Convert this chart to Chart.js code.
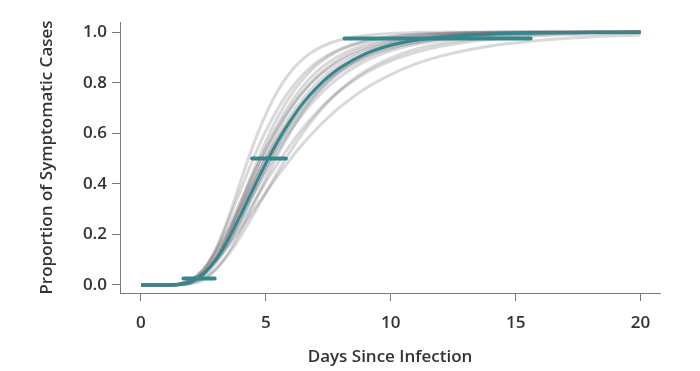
<!DOCTYPE html>
<html>
<head>
<meta charset="utf-8">
<script src="https://cdn.jsdelivr.net/npm/chart.js@4.4.1/dist/chart.umd.min.js"></script>
<style>
  html, body { margin: 0; padding: 0; background: #fff; }
  #wrap { width: 700px; height: 371px; position: relative; }
</style>
</head>
<body>
<div id="wrap"><canvas id="chart"></canvas></div>
<script>
// Days since infection (x positions shared by all curves)
const days = [0, 1, 1.5, 2, 2.5, 3, 3.5, 4, 4.5, 5, 5.5, 6, 6.5, 7, 7.5, 8, 9, 10, 11, 12, 14, 16, 18, 20];

// Fitted curve (teal)
const fitted = [0, 0, 0.002, 0.012, 0.043, 0.100, 0.182, 0.279, 0.382, 0.481, 0.572, 0.652, 0.721, 0.777, 0.824, 0.861, 0.915, 0.948, 0.968, 0.980, 0.993, 0.997, 0.999, 1.0];

// Bootstrap curves (grey)
const boot1 = [0, 0, 0.001, 0.010, 0.050, 0.138, 0.266, 0.413, 0.555, 0.676, 0.772, 0.844, 0.895, 0.930, 0.954, 0.970, 0.987, 0.995, 0.998, 0.999, 1, 1, 1, 1];
const boot2 = [0, 0, 0.002, 0.017, 0.061, 0.143, 0.254, 0.378, 0.500, 0.609, 0.701, 0.775, 0.833, 0.878, 0.910, 0.935, 0.966, 0.982, 0.991, 0.995, 0.999, 1, 1, 1];
const boot3 = [0, 0, 0.001, 0.009, 0.040, 0.106, 0.206, 0.327, 0.452, 0.568, 0.669, 0.751, 0.816, 0.866, 0.903, 0.930, 0.964, 0.982, 0.991, 0.995, 0.999, 1, 1, 1];
const boot4 = [0, 0, 0.003, 0.019, 0.060, 0.132, 0.226, 0.332, 0.439, 0.539, 0.627, 0.702, 0.765, 0.815, 0.856, 0.888, 0.933, 0.960, 0.976, 0.985, 0.995, 0.998, 0.999, 1];
const boot5 = [0, 0, 0.001, 0.011, 0.042, 0.104, 0.194, 0.301, 0.414, 0.521, 0.616, 0.698, 0.766, 0.820, 0.862, 0.896, 0.940, 0.966, 0.981, 0.989, 0.997, 0.999, 1, 1];
const boot6 = [0, 0, 0.004, 0.021, 0.062, 0.128, 0.214, 0.310, 0.407, 0.500, 0.584, 0.657, 0.720, 0.773, 0.816, 0.852, 0.904, 0.938, 0.960, 0.974, 0.989, 0.995, 0.998, 0.999];
const boot7 = [0, 0, 0.001, 0.009, 0.034, 0.085, 0.161, 0.256, 0.359, 0.461, 0.556, 0.640, 0.711, 0.771, 0.820, 0.859, 0.915, 0.949, 0.969, 0.982, 0.993, 0.998, 0.999, 1];
const boot8 = [0, 0, 0.002, 0.013, 0.044, 0.098, 0.173, 0.261, 0.355, 0.447, 0.534, 0.611, 0.679, 0.736, 0.785, 0.825, 0.886, 0.926, 0.952, 0.968, 0.986, 0.994, 0.997, 0.999];
const boot9 = [0, 0, 0, 0.005, 0.021, 0.061, 0.127, 0.215, 0.316, 0.420, 0.519, 0.609, 0.687, 0.753, 0.806, 0.849, 0.910, 0.948, 0.969, 0.982, 0.994, 0.998, 0.999, 1];
const boot10 = [0, 0, 0.003, 0.016, 0.046, 0.097, 0.164, 0.242, 0.324, 0.407, 0.485, 0.557, 0.622, 0.679, 0.729, 0.771, 0.838, 0.886, 0.920, 0.944, 0.972, 0.986, 0.993, 0.996];
const boot11 = [0, 0, 0.001, 0.007, 0.025, 0.063, 0.120, 0.194, 0.278, 0.365, 0.451, 0.531, 0.604, 0.669, 0.725, 0.773, 0.847, 0.897, 0.932, 0.955, 0.980, 0.991, 0.996, 0.998];
const boot12 = [0, 0, 0.005, 0.019, 0.049, 0.095, 0.155, 0.222, 0.294, 0.365, 0.435, 0.500, 0.560, 0.614, 0.663, 0.706, 0.778, 0.832, 0.874, 0.905, 0.945, 0.968, 0.981, 0.989];
const boot13 = [0, 0, 0.002, 0.013, 0.046, 0.106, 0.192, 0.293, 0.399, 0.500, 0.592, 0.672, 0.739, 0.794, 0.839, 0.874, 0.924, 0.955, 0.973, 0.984, 0.994, 0.998, 0.999, 1];
const boot14 = [0, 0, 0.002, 0.013, 0.044, 0.100, 0.179, 0.271, 0.368, 0.464, 0.552, 0.630, 0.698, 0.755, 0.803, 0.842, 0.899, 0.936, 0.959, 0.974, 0.989, 0.996, 0.998, 0.999];
const boot15 = [0, 0, 0.001, 0.011, 0.043, 0.108, 0.203, 0.316, 0.433, 0.543, 0.640, 0.721, 0.788, 0.840, 0.880, 0.910, 0.951, 0.973, 0.985, 0.992, 0.998, 1, 1, 1];
const bootCurves = [boot1, boot2, boot3, boot4, boot5, boot6, boot7, boot8, boot9, boot10, boot11, boot12, boot13, boot14, boot15];

// Confidence intervals at the 2.5th, 50th and 97.5th percentiles
const ciLevels = [0.025, 0.5, 0.975];
const ciLow = [1.7, 4.45, 8.15];
const ciHigh = [2.95, 5.8, 15.6];

// Tick labels
const xTicks = [0, 5, 10, 15, 20];
const yTicks = [0, 0.2, 0.4, 0.6, 0.8, 1.0];

const teal = '#36878b';
const axisGrey = '#7a7a7a';
const textColor = '#333333';

function toPoints(ys) {
    return days.map((d, i) => ({ x: d, y: ys[i] }));
}

const datasets = [];

// CI bars on top
ciLevels.forEach((lvl, i) => {
    datasets.push({
        data: [{ x: ciLow[i], y: lvl }, { x: ciHigh[i], y: lvl }],
        borderColor: teal,
        borderWidth: 4,
        pointRadius: 0,
        borderCapStyle: 'round',
        tension: 0
    });
});

datasets.push({
    data: toPoints(fitted),
    borderColor: teal,
    borderWidth: 3,
    pointRadius: 0,
    cubicInterpolationMode: 'monotone'
});

bootCurves.forEach(c => {
    datasets.push({
        data: toPoints(c),
        borderColor: 'rgba(95, 95, 105, 0.24)',
        borderWidth: 3,
        pointRadius: 0,
        cubicInterpolationMode: 'monotone'
    });
});

const tickFont = { family: 'Open Sans', size: 17, weight: '600' };
const titleFont = { family: 'Open Sans', size: 17, weight: '600' };

const ctx = document.getElementById('chart').getContext('2d');
new Chart(ctx, {
    type: 'line',
    data: { datasets: datasets },
    options: {
        responsive: true,
        maintainAspectRatio: false,
        animation: false,
        layout: { padding: { top: 22, right: 40, left: 0, bottom: 0 } },
        plugins: {
            legend: { display: false },
            tooltip: { enabled: false }
        },
        scales: {
            x: {
                type: 'linear',
                min: -0.84,
                max: 20.78,
                afterBuildTicks: axis => { axis.ticks = xTicks.map(v => ({ value: v })); },
                afterFit: axis => { axis.height = 78; },
                grid: { drawOnChartArea: false, color: axisGrey, tickLength: 8 },
                border: { color: axisGrey, width: 1 },
                ticks: { color: textColor, font: tickFont, padding: 12, maxRotation: 0 },
                title: {
                    display: true,
                    text: 'Days Since Infection',
                    color: textColor,
                    font: titleFont,
                    padding: { top: 0, bottom: 4 }
                }
            },
            y: {
                min: -0.032,
                max: 1.04,
                afterBuildTicks: axis => { axis.ticks = yTicks.map(v => ({ value: v })); },
                afterFit: axis => { axis.width = 120; },
                grid: { drawOnChartArea: false, color: axisGrey, tickLength: 8 },
                border: { color: axisGrey, width: 1 },
                ticks: { color: textColor, font: tickFont, padding: 5, callback: v => v.toFixed(1) },
                title: {
                    display: true,
                    text: 'Proportion of Symptomatic Cases',
                    color: textColor,
                    font: titleFont,
                    padding: { top: 37, bottom: 0 }
                }
            }
        }
    }
});
</script>
</body>
</html>
